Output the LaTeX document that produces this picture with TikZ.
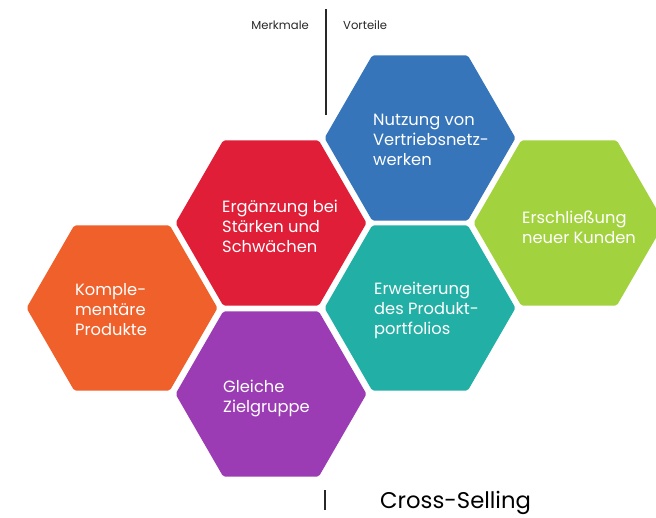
\documentclass[tikz,border=0pt]{standalone}
\usepackage{fontspec}
\setmainfont{Poppins}
\usetikzlibrary{shapes.geometric}

\definecolor{hexorange}{RGB}{240,96,42}
\definecolor{hexred}{RGB}{224,30,55}
\definecolor{hexpurple}{RGB}{156,60,180}
\definecolor{hexblue}{RGB}{54,117,186}
\definecolor{hexteal}{RGB}{34,176,166}
\definecolor{hexgreen}{RGB}{162,211,63}
\definecolor{inkgray}{RGB}{40,40,40}

\begin{document}
\begin{tikzpicture}[x=1pt,y=-1pt,
		hex/.style={regular polygon,regular polygon sides=6,minimum size=191pt,
			inner sep=0pt,outer sep=0pt,rounded corners=2pt},
		hextext/.style={anchor=west,text=white,align=left,inner sep=0pt,
			font=\fontsize{16.3}{20}\selectfont},
		headtext/.style={text=inkgray,inner sep=0pt,font=\fontsize{11.6}{13}\selectfont}]
			\useasboundingbox[fill=white] (0,0) rectangle (656,517);
			
			% Honeycomb
			\node[hex,fill=hexorange] (kompl) at (122,308) {};
			\node[hex,fill=hexred] (ergaenz) at (271,223) {};
			\node[hex,fill=hexpurple] (ziel) at (271,394) {};
			\node[hex,fill=hexblue] (netz) at (420,138) {};
			\node[hex,fill=hexteal] (portf) at (420,308) {};
			\node[hex,fill=hexgreen] (kunden) at (569,223) {};
			
			% Labels (left edge at the top-left corner of each hexagon)
			\node[hextext] (t-kompl) at ([xshift=-47pt,yshift=-2pt]kompl.center) {Komple-\\ment\"are\\Produkte};
			\node[hextext] (t-ergaenz) at ([xshift=-49pt,yshift=-3pt]ergaenz.center) {Erg\"anzung bei\\St\"arken und\\Schw\"achen};
			\node[hextext] (t-ziel) at ([xshift=-48pt,yshift=-4pt]ziel.center) {Gleiche\\Zielgruppe};
			\node[hextext] (t-netz) at ([xshift=-47pt,yshift=-2pt]netz.center) {Nutzung von\\Vertriebsnetz-\\werken};
			\node[hextext] (t-portf) at ([xshift=-46pt,yshift=-2pt]portf.center) {Erweiterung\\des Produkt-\\portfolios};
			\node[hextext] (t-kunden) at ([xshift=-47pt,yshift=-4pt]kunden.center) {Erschlie\ss ung\\neuer Kunden};
			
			% Header with divider
			\coordinate (divtop) at (326,9);
			\coordinate (divbot) at (326,115);
			\draw[inkgray,line width=1.1pt] (divtop) -- (divbot);
			\node[headtext,anchor=east] (merkmale) at ([xshift=-17pt,yshift=-16pt]divtop) {Merkmale};
			\node[headtext,anchor=west] (vorteile) at ([xshift=17pt,yshift=-16pt]divtop) {Vorteile};
			
			% Title
			\coordinate (tictop) at (325,490);
			\coordinate (ticbot) at (325,510);
			\draw[inkgray,line width=1.1pt] (tictop) -- (ticbot);
			\node[anchor=base west,inner sep=0pt,text=black,font=\fontsize{22.7}{26}\selectfont] (title) at (380,508) {Cross-Selling};
		\end{tikzpicture}
\end{document}
